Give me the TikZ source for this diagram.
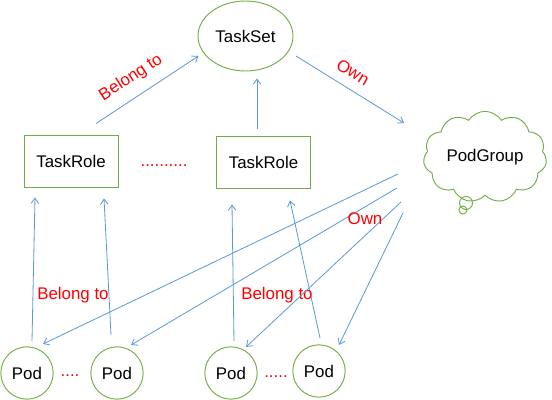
\documentclass[tikz,border=0pt]{standalone}
\usepackage{fontspec}
\setmainfont{Liberation Sans}
\usepackage{tikz}
\usetikzlibrary{arrows.meta, calc, shapes.geometric, shapes.symbols}

\definecolor{nodegreen}{HTML}{70AD47}
\definecolor{arrowblue}{HTML}{5B9BD5}

\begin{document}
\begin{tikzpicture}[x=0.03cm, y=-0.03cm, >={Straight Barb[length=4.5pt, width=6.5pt]},
    every node/.style={font=\fontsize{14.4pt}{17pt}\selectfont},
    rolebox/.style={draw=nodegreen, line width=0.8pt, minimum width=2.82cm, minimum height=1.56cm, inner sep=0pt},
    podnode/.style={draw=nodegreen, line width=0.8pt, circle, minimum size=1.57cm, inner sep=0pt},
    arr/.style={->, arrowblue, line width=0.7pt},
    lbl/.style={text=red}]
  \useasboundingbox (0,0) rectangle (552,400);

  % top and middle row
  \node[draw=nodegreen, line width=0.8pt, ellipse, minimum width=2.85cm, minimum height=2.1cm, inner sep=0pt] (taskset) at (245.5,36) {TaskSet};
  \node[rolebox] (role1) at (71,161) {TaskRole};
  \node[rolebox] (role2) at (263.5,162) {TaskRole};
  \node[lbl] (roledots) at (164,166) {..........};
  \node[draw=nodegreen, line width=0.8pt, cloud, cloud puffs=11, cloud puff arc=115, aspect=1.4,
        minimum width=3.7cm, minimum height=2.6cm, inner sep=0pt] (podgroup) at (485,157) {PodGroup};
  \draw[nodegreen, line width=0.8pt] (466,203) circle[radius=6.5] (463,210) circle[radius=4];

  % pods
  \node[podnode] (pod1) at (27,373) {Pod};
  \node[podnode] (pod2) at (117,373) {Pod};
  \node[podnode] (pod3) at (231,373) {Pod};
  \node[podnode] (pod4) at (319,371) {Pod};
  \node[lbl] (poddots1) at (70,376) {....};
  \node[lbl] (poddots2) at (276,377) {.....};

  % belong to / own
  \draw[arr] ($(role1.north)+(25,-11)$) -- ($(taskset.center)+(-47,20)$);
  \draw[arr] ($(role2.north)+(-6.5,-7)$) -- ($(taskset.south)+(11.5,7)$);
  \draw[arr] ($(taskset.center)+(50.5,20)$) -- ($(podgroup.center)+(-81,-34)$);
  \node[lbl, rotate=33] (belong1) at (131,78) {Belong to};
  \node[lbl, rotate=-31] (own1) at (353,72) {Own};

  \draw[arr] ($(pod1.center)+(5,-32)$) -- ($(role1.south)+(-36,10)$);
  \draw[arr] ($(pod2.center)+(-6,-38)$) -- ($(role1.south)+(33,11)$);
  \draw[arr] ($(pod3.center)+(3,-32)$) -- ($(role2.south)+(-31.5,16)$);
  \draw[arr] ($(pod4.center)+(1,-33)$) -- ($(role2.south)+(26.5,12)$);
  \node[lbl] (belong2) at (73,295) {Belong to};
  \node[lbl] (belong3) at (277,295) {Belong to};

  \draw[arr] ($(podgroup.center)+(-87,17)$) -- ($(pod1.center)+(16,-29)$);
  \draw[arr] ($(podgroup.center)+(-88,31)$) -- ($(pod2.center)+(14,-28)$);
  \draw[arr] ($(podgroup.center)+(-84,45)$) -- ($(pod3.center)+(15,-26)$);
  \draw[arr] ($(podgroup.center)+(-82,56)$) -- ($(pod4.center)+(20,-26)$);
  \node[lbl] (own2) at (365,219) {Own};
\end{tikzpicture}
\end{document}
